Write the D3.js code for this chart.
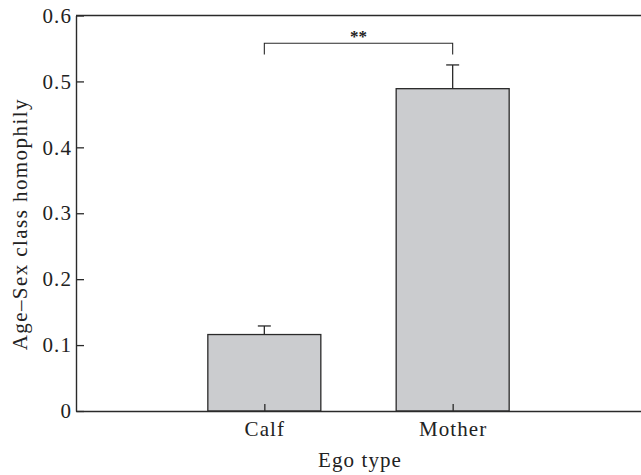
<!DOCTYPE html>
<html><head><meta charset="utf-8">
<script src="https://cdn.jsdelivr.net/npm/d3@7"></script>
<style>body{margin:0;background:#fff}svg{display:block}</style>
</head><body>
<script>
const categories = ["Calf", "Mother"];
const means = [0.116, 0.489];
const errors = [0.013, 0.036];
const yTicks = [0, 0.1, 0.2, 0.3, 0.4, 0.5, 0.6];
const yTickLabels = ["0", "0.1", "0.2", "0.3", "0.4", "0.5", "0.6"];
const sigLabel = "**";

const W = 641, H = 475;
const m = {l: 76, r: 0, t: 15.5, b: 64};
const svg = d3.select("body").append("svg").attr("width", W).attr("height", H);
const font = "'Liberation Serif', 'Times New Roman', serif";
const ink = "#2a2a2a";
const fs = 21, ls = 1.1;

const x = d3.scalePoint().domain(categories).range([m.l, W]).padding(1);
const step = x.step();
const y = d3.scaleLinear().domain([0, 0.6]).range([H - m.b, m.t]);
const bw = step * 0.6;

// bars
svg.selectAll("rect.bar").data(categories).enter().append("rect")
  .attr("x", d => x(d) - bw / 2).attr("y", (d, i) => y(means[i]))
  .attr("width", bw).attr("height", (d, i) => y(0) - y(means[i]))
  .attr("fill", "#cbcccf").attr("stroke", ink).attr("stroke-width", 1.3);

// error bars (upper only)
const eb = svg.append("g").attr("stroke", ink).attr("stroke-width", 1.3);
categories.forEach((c, i) => {
  eb.append("line").attr("x1", x(c)).attr("x2", x(c)).attr("y1", y(means[i])).attr("y2", y(means[i] + errors[i]));
  eb.append("line").attr("x1", x(c) - 6.5).attr("x2", x(c) + 6.5).attr("y1", y(means[i] + errors[i])).attr("y2", y(means[i] + errors[i]));
});

// axes
const yAxis = d3.axisLeft(y).tickValues(yTicks).tickFormat((d, i) => yTickLabels[i]).tickSizeInner(-8).tickSizeOuter(0).tickPadding(12);
const gy = svg.append("g").attr("transform", `translate(${m.l},0)`).call(yAxis);
const xAxis = d3.axisBottom(x).tickSizeInner(-7).tickSizeOuter(0);
const gx = svg.append("g").attr("transform", `translate(0,${y(0)})`).call(xAxis);
[gy, gx].forEach(g => {
  g.selectAll("path.domain").attr("stroke", ink).attr("stroke-width", 1.4);
  g.selectAll(".tick line").attr("stroke", ink).attr("stroke-width", 1.3);
  g.selectAll("text").attr("font-family", font).attr("font-size", fs).attr("letter-spacing", ls).attr("fill", "#222");
});
gy.selectAll(".tick text").attr("x", -4);
gx.selectAll(".tick text").attr("y", 25).attr("dy", "0");

// top frame line
svg.append("line").attr("x1", m.l).attr("x2", W).attr("y1", y(0.6)).attr("y2", y(0.6))
  .attr("stroke", ink).attr("stroke-width", 1.4);

// significance bracket
const by = y(0.558), bdrop = y(0.541);
svg.append("path")
  .attr("d", `M${x(categories[0])},${bdrop}V${by}H${x(categories[1])}V${bdrop}`)
  .attr("fill", "none").attr("stroke", ink).attr("stroke-width", 1.1);
svg.append("text").attr("x", (x(categories[0]) + x(categories[1])) / 2).attr("y", by - 1)
  .attr("text-anchor", "middle").attr("font-family", font).attr("font-size", 17)
  .attr("font-weight", "bold").attr("fill", "#222").text(sigLabel);

// axis titles
svg.append("text").attr("x", 360).attr("y", 467).attr("text-anchor", "middle")
  .attr("font-family", font).attr("font-size", fs).attr("letter-spacing", ls).attr("fill", "#222").text("Ego type");
svg.append("text").attr("transform", `translate(27,${(y(0) + y(0.6)) / 2 + 11}) rotate(-90)`)
  .attr("text-anchor", "middle").attr("font-family", font).attr("font-size", fs).attr("letter-spacing", ls * 1.3).attr("fill", "#222")
  .text("Age–Sex class homophily");
</script>
</body></html>
